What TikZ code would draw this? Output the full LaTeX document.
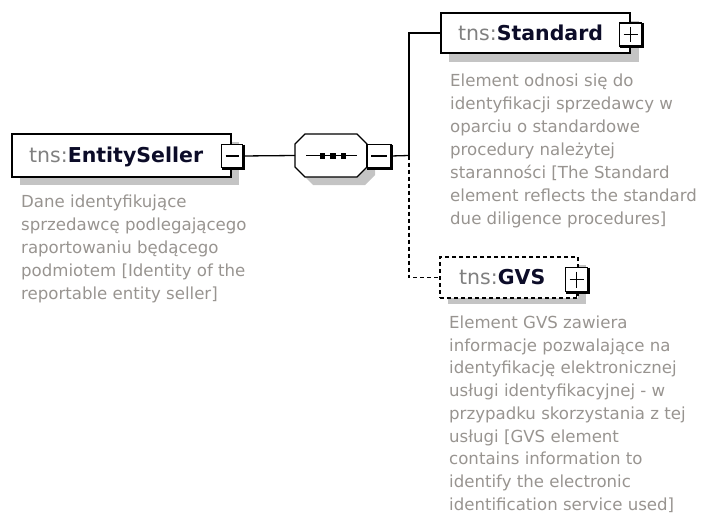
\documentclass[tikz,border=0pt]{standalone}
\usepackage{fontspec}
\setmainfont{DejaVu Sans}
\definecolor{desc}{RGB}{152,148,144}
\definecolor{pfx}{RGB}{128,128,128}
\definecolor{shade}{RGB}{196,196,196}
\definecolor{nm}{RGB}{12,12,40}
\begin{document}
\begin{tikzpicture}[x=1pt,y=-1pt,
  elbox/.style={draw=black, line width=1.4pt, fill=white, inner sep=0pt, outer sep=0pt},
  btn/.style={draw=black, fill=white, line width=1.1pt, inner sep=0pt, outer sep=0pt},
  conn/.style={draw=black, line width=1.3pt},
  optconn/.style={conn, dash pattern=on 4pt off 3pt},
  titletext/.style={font=\fontsize{20.5}{24}\selectfont, inner sep=0pt, anchor=base west},
  desctext/.style={font=\fontsize{16.6}{23}\selectfont, text=desc, inner sep=0pt, anchor=base west},
  desctight/.style={font=\fontsize{16.6}{22.7}\selectfont, text=desc, inner sep=0pt, anchor=base west},
  shadowfill/.style={fill=shade, draw=none}]
\useasboundingbox (0,0) rectangle (703,516);

% ---------- EntitySeller ----------
\fill[shadowfill] (20,142) rectangle (239,185);
\node[elbox, minimum width=219pt, minimum height=43pt] (es) at (121.5,155.5) {};
\node[titletext] (estitle) at (29,162.5) {{\color{pfx}tns:}{\color{nm}\bfseries EntitySeller}};
\node[btn, minimum width=21pt, minimum height=23pt] (esb) at (232,156) {};
\draw[line width=2.2pt] ([xshift=1pt]esb.north east) -- ([xshift=1pt,yshift=-1pt]esb.south east) -- ([yshift=-1pt]esb.south west);
\draw[line width=1.1pt] ([xshift=4pt]esb.west) -- ([xshift=-4pt]esb.east);
\node[desctext] (esdesc) at (21,207.5) {\begin{tabular}[t]{@{}l@{}}Dane identyfikujące\\sprzedawcę podlegającego\\raportowaniu będącego\\podmiotem [Identity of the\\reportable entity seller]\end{tabular}};

% ---------- sequence compositor ----------
\node[minimum width=72pt, minimum height=43pt, inner sep=0pt, outer sep=0pt] (seq) at (331,155.5) {};
\fill[shadowfill] (303,152) -- (313,142) -- (365,142) -- (375,152) -- (375,175) -- (365,185) -- (313,185) -- (303,175) -- cycle;
\draw[line width=1.4pt, fill=white] (295,144) -- (305,134) -- (357,134) -- (367,144) -- (367,167) -- (357,177) -- (305,177) -- (295,167) -- cycle;
\draw[line width=1.3pt] (306,155.5) -- (357,155.5);
\fill (319.5,153) rectangle (325,158.5);
\fill (330,153) rectangle (335.5,158.5);
\fill (340.5,153) rectangle (346,158.5);
\node[btn, minimum width=24pt, minimum height=23pt] (seqb) at (379,156) {};
\draw[line width=2.2pt] ([xshift=1pt]seqb.north east) -- ([xshift=1pt,yshift=-1pt]seqb.south east) -- ([yshift=-1pt]seqb.south west);
\draw[line width=1.1pt] ([xshift=4pt]seqb.west) -- ([xshift=-4pt]seqb.east);

% ---------- Standard ----------
\fill[shadowfill] (449,21) rectangle (639,62);
\node[elbox, minimum width=189pt, minimum height=40pt] (std) at (535.5,33) {};
\node[titletext] (stdtitle) at (458,40.5) {{\color{pfx}tns:}{\color{nm}\bfseries Standard}};
\node[btn, minimum width=22pt, minimum height=23pt] (stdb) at (630.5,34.5) {};
\draw[line width=2.2pt] ([xshift=1pt]stdb.north east) -- ([xshift=1pt,yshift=-1pt]stdb.south east) -- ([yshift=-1pt]stdb.south west);
\draw[line width=1.1pt] ([xshift=4pt]stdb.west) -- ([xshift=-4pt]stdb.east);
\draw[line width=1.1pt] ([yshift=-4pt]stdb.north) -- ([yshift=4pt]stdb.south);
\node[desctext] (stddesc) at (450,86.5) {\begin{tabular}[t]{@{}l@{}}Element odnosi się do\\identyfikacji sprzedawcy w\\oparciu o standardowe\\procedury należytej\\staranności [The Standard\\element reflects the standard\\due diligence procedures]\end{tabular}};

% ---------- GVS ----------
\fill[shadowfill] (448,265) rectangle (586,304);
\node[elbox, dash pattern=on 4pt off 3pt, minimum width=138pt, minimum height=41pt] (gvs) at (509,277.5) {};
\node[titletext] (gvstitle) at (459,284.5) {{\color{pfx}tns:}{\color{nm}\bfseries GVS}};
\node[btn, minimum width=22pt, minimum height=24pt] (gvsb) at (576.5,279.5) {};
\draw[line width=2.2pt] ([xshift=1pt]gvsb.north east) -- ([xshift=1pt,yshift=-1pt]gvsb.south east) -- ([yshift=-1pt]gvsb.south west);
\draw[line width=1.1pt] ([xshift=4pt]gvsb.west) -- ([xshift=-4pt]gvsb.east);
\draw[line width=1.1pt] ([yshift=-4pt]gvsb.north) -- ([yshift=4pt]gvsb.south);
\draw[line width=1.1pt] (gvsb.south) -- ++(0,5);
\node[desctight] (gvsdesc) at (449,328.5) {\begin{tabular}[t]{@{}l@{}}Element GVS zawiera\\informacje pozwalające na\\identyfikację elektronicznej\\usługi identyfikacyjnej - w\\przypadku skorzystania z tej\\usługi [GVS element\\contains information to\\identify the electronic\\identification service used]\end{tabular}};

% ---------- connectors ----------
\coordinate (fork) at (409,155.5);
\draw[conn] (esb.east) -- (seq.west);
\draw[conn] (seqb.east) -- (fork);
\draw[conn] (fork) |- (std.west);
\draw[optconn] (fork) |- (gvs.west);
\end{tikzpicture}
\end{document}
